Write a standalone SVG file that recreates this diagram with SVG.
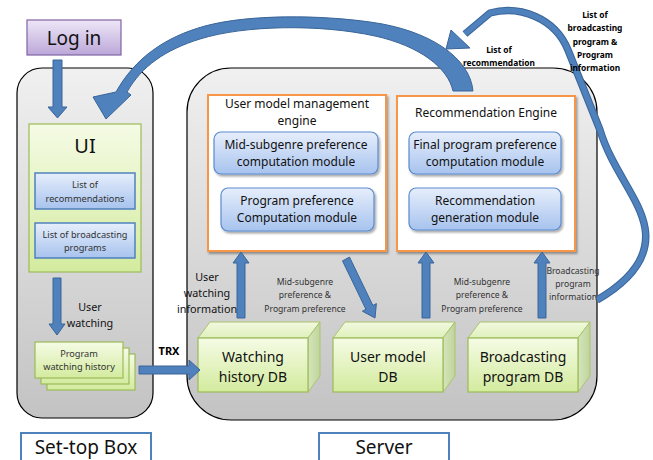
<svg xmlns="http://www.w3.org/2000/svg" width="653" height="460" viewBox="0 0 653 460">
<defs>
  <linearGradient id="gGray" x1="0" y1="0" x2="0" y2="1"><stop offset="0" stop-color="#f0f0f0"/><stop offset="1" stop-color="#c3c3c3"/></linearGradient>
  <linearGradient id="gPurple" x1="0" y1="0" x2="0" y2="1"><stop offset="0" stop-color="#eee7f7"/><stop offset="1" stop-color="#bca7d9"/></linearGradient>
  <linearGradient id="gGreen" x1="0" y1="0" x2="0" y2="1"><stop offset="0" stop-color="#f5fbe5"/><stop offset="1" stop-color="#d3eb9e"/></linearGradient>
  <linearGradient id="gTop" x1="0" y1="0" x2="0" y2="1"><stop offset="0" stop-color="#f2f9e0"/><stop offset="1" stop-color="#dff0bb"/></linearGradient>
  <linearGradient id="gSide" x1="0" y1="0" x2="1" y2="0"><stop offset="0" stop-color="#d5e5bb"/><stop offset="1" stop-color="#bfd49c"/></linearGradient>
  <linearGradient id="gBlue" x1="0" y1="0" x2="0" y2="1"><stop offset="0" stop-color="#e6eefb"/><stop offset="1" stop-color="#a7c3ee"/></linearGradient>
  <filter id="sh" x="-10%" y="-10%" width="130%" height="140%"><feDropShadow dx="1.5" dy="2" stdDeviation="1.2" flood-color="#000" flood-opacity="0.35"/></filter>
</defs>
<style>
  text { font-family: "Noto Sans", "DejaVu Sans", sans-serif; fill: #111; text-anchor: middle; }
  .cont { fill: url(#gGray); stroke: #000; stroke-width: 1.2; }
  .arr { fill: #4f81bd; stroke: #3a6598; stroke-width: 1; }
  .green { fill: url(#gGreen); stroke: #9bbb59; stroke-width: 1.2; }
  .blue { fill: url(#gBlue); stroke: #4f81bd; stroke-width: 1.5; }
  .mod { fill: url(#gBlue); stroke: #5b8bd0; stroke-width: 1.2; filter: url(#sh); }
  .eng { fill: #ffffff; stroke: #f79646; stroke-width: 2; filter: url(#sh); }
  .ctop { fill: url(#gTop); stroke: #a9c56d; stroke-width: 1; }
  .cside { fill: url(#gSide); stroke: #a9c56d; stroke-width: 1; }
  .label { fill: #fff; stroke: #4f81bd; stroke-width: 2; }
  .t19 { font-size: 19px; }
  .t14 { font-size: 14px; }
  .t12 { font-size: 12px; }
  .t11 { font-size: 10.8px; }
  .t9 { font-size: 9.2px; fill: #333; }
  .t86 { font-size: 8.6px; fill: #333; }
  .tb { font-size: 8.4px; font-weight: bold; fill: #000; }
</style>

<!-- containers -->
<g id="settop-box">
  <rect class="cont" x="17" y="68" width="136" height="350" rx="25" ry="25"/>
</g>
<g id="server">
  <rect class="cont" x="187" y="68" width="410" height="352" rx="44" ry="44"/>
</g>

<g id="login">
  <rect x="27" y="20" width="94" height="35" fill="url(#gPurple)" stroke="#8064a2" stroke-width="1.2"/>
  <text class="t19" x="74" y="45">Log in</text>
</g>

<g id="ui">
  <rect class="green" x="29" y="124" width="112" height="148"/>
  <text x="85" y="153" style="font-size:20px">UI</text>
</g>
<g id="list-recommendations">
  <rect class="blue" x="35" y="173" width="100" height="36"/>
  <text class="t9" x="85" y="188">List of</text>
  <text class="t9" x="85" y="202">recommendations</text>
</g>
<g id="list-broadcasting">
  <rect class="blue" x="35" y="223" width="100" height="35"/>
  <text class="t9" x="85" y="238">List of broadcasting</text>
  <text class="t9" x="85" y="251">programs</text>
</g>

<g id="watching-history-pages">
  <rect class="green" x="47" y="354" width="88" height="36"/>
  <rect class="green" x="41" y="348" width="88" height="36"/>
  <rect class="green" x="35" y="342" width="88" height="36"/>
  <text class="t9" x="79" y="357">Program</text>
  <text class="t9" x="79" y="370">watching history</text>
</g>

<g id="setbox-label">
  <rect class="label" x="21" y="433" width="130" height="32"/>
  <text class="t19" x="86" y="454">Set-top Box</text>
</g>
<g id="server-label">
  <rect class="label" x="319" y="433" width="130" height="32"/>
  <text class="t19" x="384" y="454">Server</text>
</g>

<!-- engines -->
<g id="user-model-engine">
  <rect class="eng" x="208" y="95" width="178" height="156"/>
  <text class="t12" x="297" y="108">User model management</text>
  <text class="t12" x="297" y="125">engine</text>
</g>
<g id="mid-subgenre-module">
  <rect class="mod" x="214" y="132" width="164" height="42" rx="7"/>
  <text class="t12" x="296" y="149">Mid-subgenre preference</text>
  <text class="t12" x="296" y="166">computation module</text>
</g>
<g id="program-pref-module">
  <rect class="mod" x="221" y="188" width="153" height="43" rx="7"/>
  <text class="t12" x="297" y="205">Program preference</text>
  <text class="t12" x="297" y="222">Computation module</text>
</g>

<g id="recommendation-engine">
  <rect class="eng" x="397" y="96" width="178" height="155"/>
  <text class="t12" x="486" y="117">Recommendation Engine</text>
</g>
<g id="final-pref-module">
  <rect class="mod" x="409" y="132" width="152" height="42" rx="7"/>
  <text class="t12" x="485" y="149">Final program preference</text>
  <text class="t12" x="485" y="166">computation module</text>
</g>
<g id="rec-gen-module">
  <rect class="mod" x="409" y="188" width="152" height="42" rx="7"/>
  <text class="t12" x="485" y="205">Recommendation</text>
  <text class="t12" x="485" y="222">generation module</text>
</g>

<!-- DB cubes -->
<g id="watching-history-db">
  <polygon class="ctop" points="198,338 210,322 320,322 308,338"/>
  <polygon class="cside" points="308,338 320,322 320,376 308,392"/>
  <rect class="green" x="198" y="338" width="110" height="54"/>
  <text class="t14" x="253" y="362">Watching</text>
  <text class="t14" x="253" y="382">history DB</text>
</g>
<g id="user-model-db">
  <polygon class="ctop" points="333,338 345,322 455,322 443,338"/>
  <polygon class="cside" points="443,338 455,322 455,376 443,392"/>
  <rect class="green" x="333" y="338" width="110" height="54"/>
  <text class="t14" x="388" y="362">User model</text>
  <text class="t14" x="388" y="382">DB</text>
</g>
<g id="broadcasting-db">
  <polygon class="ctop" points="468,338 480,322 590,322 578,338"/>
  <polygon class="cside" points="578,338 590,322 590,376 578,392"/>
  <rect class="green" x="468" y="338" width="110" height="54"/>
  <text class="t14" x="523" y="362">Broadcasting</text>
  <text class="t14" x="523" y="382">program DB</text>
</g>

<!-- connectors -->
<g id="connectors">
  <polygon class="arr" points="53,60 62,60 62,107 67,107 57.5,118 48,107 53,107"/>
  <polygon class="arr" points="53,278 61,278 61,324 65,324 57,335 49,324 53,324"/>
  <polygon class="arr" points="139,366 189,366 189,360 200,370 189,380 189,374 139,374"/>
  <polygon class="arr" points="237,318 245,318 245,263 249,263 241,252 233,263 237,263"/>
  <polygon class="arr" points="342.5,260.9 349.5,257.1 372.9,305.5 376.4,303.6 375,318 362.4,311.2 365.9,309.3"/>
  <polygon class="arr" points="422,318 430,318 430,263 434,263 426,252 418,263 422,263"/>
  <polygon class="arr" points="538,318 546,318 546,263 550,263 542,252 534,263 538,263"/>
  <!-- big curved arrow: recommendation list to UI -->
  <path class="arr" d="M 473,91 C 470,58 430,30 370,22 C 320,15 250,14 205,26 C 165,37 135,58 116,92 L 93,97 L 106,119 L 131,95 L 127,92 C 142,66 165,50 200,39 C 245,25 320,24 375,36 C 420,46 448,68 453,91 Z"/>
  <!-- curved arrow: broadcasting info to recommendation engine -->
  <path d="M 597,300 C 628,282 650,258 645,228 C 640,198 612,170 600,130 L 568,50 C 555,18 520,5 490,13 L 465,34" fill="none" stroke="#3a6598" stroke-width="7.5" stroke-linejoin="round"/>
  <path d="M 597,300 C 628,282 650,258 645,228 C 640,198 612,170 600,130 L 568,50 C 555,18 520,5 490,13 L 465,34" fill="none" stroke="#4f81bd" stroke-width="5.5" stroke-linejoin="round"/>
  <polygon class="arr" points="451,30 470,48 446,49"/>
</g>

<!-- connector labels -->
<g id="labels">
  <text class="t11" x="90" y="311">User</text>
  <text class="t11" x="90" y="327">watching</text>
  <text x="169" y="355" style="font-size:11px;font-weight:bold;fill:#000">TRX</text>
  <text class="t11" x="207" y="281">User</text>
  <text class="t11" x="207" y="297">watching</text>
  <text class="t11" x="207" y="313">information</text>
  <text class="t86" x="305" y="285">Mid-subgenre</text>
  <text class="t86" x="305" y="298">preference &amp;</text>
  <text class="t86" x="305" y="312">Program preference</text>
  <text class="t86" x="482" y="285">Mid-subgenre</text>
  <text class="t86" x="482" y="298">preference &amp;</text>
  <text class="t86" x="482" y="312">Program preference</text>
  <text class="t86" x="573" y="274">Broadcasting</text>
  <text class="t86" x="573" y="287">program</text>
  <text class="t86" x="573" y="300">information</text>
  <text class="tb" x="499" y="53">List of</text>
  <text class="tb" x="499" y="66">recommendation</text>
  <text class="tb" x="595" y="18">List of</text>
  <text class="tb" x="595" y="31">broadcasting</text>
  <text class="tb" x="595" y="45">program &amp;</text>
  <text class="tb" x="595" y="58">Program</text>
  <text class="tb" x="595" y="71">information</text>
</g>
</svg>
